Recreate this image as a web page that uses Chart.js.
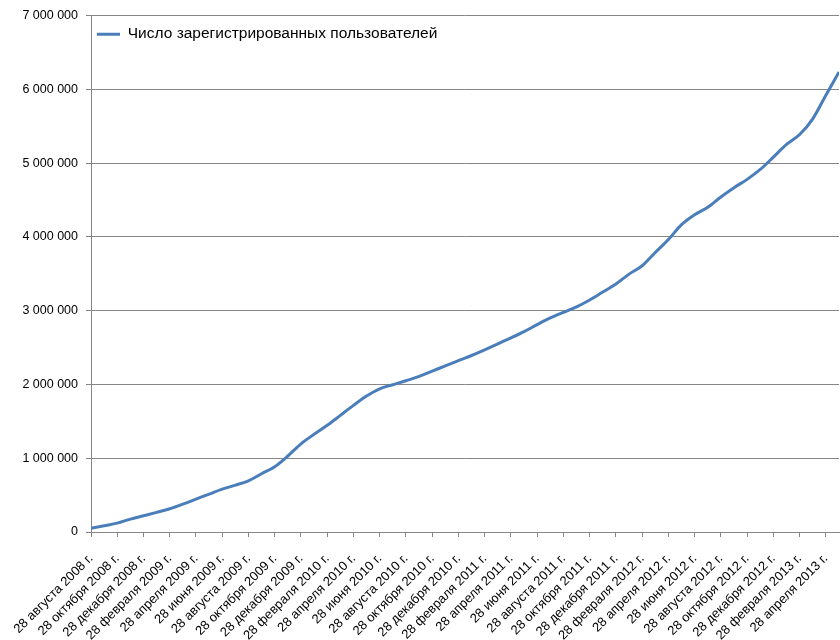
<!DOCTYPE html>
<html>
<head>
<meta charset="utf-8">
<script src="https://cdn.jsdelivr.net/npm/chart.js@4"></script>
<style>
  body { margin: 0; background: #fff; }
</style>
</head>
<body>
<canvas id="usersChart" width="840" height="640"></canvas>
<script>
// подписи оси X (каждые 2 месяца)
const tickLabels = [
  '28 августа 2008 г.', '28 октября 2008 г.', '28 декабря 2008 г.',
  '28 февраля 2009 г.', '28 апреля 2009 г.', '28 июня 2009 г.', '28 августа 2009 г.', '28 октября 2009 г.', '28 декабря 2009 г.',
  '28 февраля 2010 г.', '28 апреля 2010 г.', '28 июня 2010 г.', '28 августа 2010 г.', '28 октября 2010 г.', '28 декабря 2010 г.',
  '28 февраля 2011 г.', '28 апреля 2011 г.', '28 июня 2011 г.', '28 августа 2011 г.', '28 октября 2011 г.', '28 декабря 2011 г.',
  '28 февраля 2012 г.', '28 апреля 2012 г.', '28 июня 2012 г.', '28 августа 2012 г.', '28 октября 2012 г.', '28 декабря 2012 г.',
  '28 февраля 2013 г.', '28 апреля 2013 г.'
];

// число пользователей на 28-е число каждого месяца, с августа 2008 по май 2013
const users = [
  50000, 85000, 120000, 175000, 220000, 266000, 315000, 378000, 446000, 514000,
  581000, 635000, 694000, 790000, 885000, 1030000, 1195000, 1324000, 1446000, 1581000,
  1716000, 1842000, 1941000, 1996000, 2050000, 2108000, 2180000, 2252000, 2324000, 2392000,
  2468000, 2550000, 2631000, 2716000, 2811000, 2901000, 2977000, 3050000, 3144000, 3252000,
  3360000, 3495000, 3608000, 3788000, 3964000, 4165000, 4300000, 4400000, 4541000, 4667000,
  4779000, 4914000, 5081000, 5252000, 5387000, 5600000, 5920000, 6234000
];

const seriesName = 'Число зарегистрированных пользователей';

Chart.defaults.font.family = '"Liberation Sans", Arial, sans-serif';
Chart.defaults.color = '#000';

const gridColor = '#868686';

const ctx = document.getElementById('usersChart').getContext('2d');
const usersChart = new Chart(ctx, {
  type: 'line',
  data: {
    datasets: [{
      label: seriesName,
      data: users.map((v, i) => ({ x: i, y: v })),
      borderColor: '#4A7EBB',
      backgroundColor: '#4A7EBB',
      borderWidth: 3,
      pointRadius: 0,
      cubicInterpolationMode: 'monotone',
      fill: false
    }]
  },
  options: {
    responsive: false,
    animation: false,
    devicePixelRatio: 1,
    layout: { padding: { top: 8, right: 1, left: 0, bottom: 0 } },
    plugins: {
      tooltip: { enabled: false },
      legend: {
        position: 'chartArea',
        align: 'start',
        title: { display: true, text: '', padding: { top: 0, bottom: 6 }, font: { size: 12 } },
        labels: {
          boxWidth: 23,
          boxHeight: 3,
          padding: 6,
          font: { size: 15.5 },
          generateLabels: (chart) => chart.data.datasets.map((ds, i) => ({
            text: ds.label,
            fillStyle: ds.borderColor,
            strokeStyle: ds.borderColor,
            lineWidth: 0,
            datasetIndex: i
          }))
        }
      }
    },
    scales: {
      x: {
        type: 'linear',
        min: 0,
        max: users.length - 1,
        afterFit: (scale) => {
          scale.height = 108;
          scale.paddingRight = 0;
          scale.paddingLeft = 0;
        },
        grid: { drawOnChartArea: false, color: gridColor, tickLength: 5 },
        border: { color: gridColor },
        ticks: {
          stepSize: 2,
          includeBounds: false,
          autoSkip: false,
          minRotation: 45,
          maxRotation: 45,
          padding: 14,
          font: { size: 13 },
          callback: (v) => tickLabels[v / 2] ?? ''
        }
      },
      y: {
        min: 0,
        max: 7000000,
        afterFit: (scale) => { scale.width = 91; },
        grid: { color: gridColor, tickLength: 5 },
        border: { color: gridColor },
        ticks: {
          stepSize: 1000000,
          padding: 8,
          font: { size: 12.5 },
          callback: (v) => v.toString().replace(/\B(?=(\d{3})+(?!\d))/g, ' ')
        }
      }
    }
  }
});
</script>
</body>
</html>
